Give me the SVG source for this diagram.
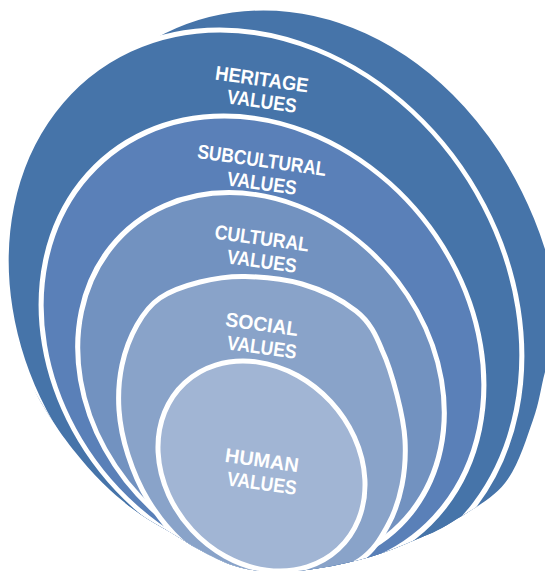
<svg xmlns="http://www.w3.org/2000/svg" width="545" height="571" viewBox="0 0 545 571">
<defs>
<clipPath id="cut">
<path d="M-10,-10 L560,-10 L560,320 L545,372 C540.5,388.67 539.670,401.5 533,420 C526.33,438.5 518.5,466 505,483 C491.5,500 467,512.5 452,522 C437,531.5 428.67,534.17 415,540 C401.33,545.83 385.8,552.3 370,557 C354.2,561.7 335.8,565.5 320,568 C304.2,570.5 289.2,572.3 275,572 C260.8,571.7 247.5,569.7 235,566 C222.5,562.3 210.8,555.7 200,550 C189.2,544.3 180,538 170,532 C160,526 150,521 140,514 C130,507 120,499.3 110,490 C100,480.7 89.7,469.7 80,458 C70.3,446.3 61.3,434.7 52,420 C42.7,405.3 31.7,388.3 24,370 C16.3,351.7 10.8,330 6,310 L-5,250 L-10,-10 Z"/>
</clipPath>
<clipPath id="rightside">
<rect x="125" y="-10" width="440" height="600"/>
</clipPath>
</defs>
<style>
.ring{stroke:#ffffff;stroke-width:5}
.c1{fill:#4674a9}.c2{fill:#4674a9}.c3{fill:#5a80b8}.c4{fill:#7292c0}.c5{fill:#89a3c9}.c6{fill:#a1b5d4}
.lbl{font-family:"Liberation Sans",Arial,sans-serif;font-weight:bold;font-size:20px;fill:#ffffff;text-anchor:middle}
</style>
<rect width="545" height="571" fill="#ffffff"/>
<g clip-path="url(#cut)">
<g id="outer" clip-path="url(#rightside)">
<ellipse class="ring c1" cx="0" cy="0" rx="276.1" ry="332" transform="matrix(1 0 0.0775 1 289 340)"/>
</g>
<g id="heritage">
<ellipse class="ring c2" cx="0" cy="0" rx="254" ry="278" transform="matrix(1 0 0.159 1 264 308)"/>
<text class="lbl" transform="rotate(8 261 86)" x="261" y="86" textLength="94" lengthAdjust="spacingAndGlyphs">HERITAGE</text>
<text class="lbl" transform="rotate(8 261 108)" x="261" y="108" textLength="70" lengthAdjust="spacingAndGlyphs">VALUES</text>
</g>
<g id="subcultural">
<ellipse class="ring c3" cx="0" cy="0" rx="218" ry="229" transform="matrix(1 0 0.168 1 262.5 345)"/>
<text class="lbl" transform="rotate(8 261 167)" x="261" y="167" textLength="130" lengthAdjust="spacingAndGlyphs">SUBCULTURAL</text>
<text class="lbl" transform="rotate(8 261 190)" x="261" y="190" textLength="70" lengthAdjust="spacingAndGlyphs">VALUES</text>
</g>
<g id="cultural">
<ellipse class="ring c4" cx="0" cy="0" rx="180.5" ry="187.4" transform="matrix(1 0 0.17 1 261 380)"/>
<text class="lbl" transform="rotate(8 261 245)" x="261" y="245" textLength="95" lengthAdjust="spacingAndGlyphs">CULTURAL</text>
<text class="lbl" transform="rotate(8 261 268)" x="261" y="268" textLength="70" lengthAdjust="spacingAndGlyphs">VALUES</text>
</g>
<g id="social">
<path class="ring c5" d="M245,276.5 C262,276.8 283,278.5 302,284 C321,289.5 342,300 356,311 C370,322 376,335 382,350 C388.5,363.67 393.17,380 397,395 C400.83,410 404.17,425 405,440 C405.83,455 404.83,470.83 402,485 C399.17,499.17 395,512.5 388,525 C381,537.5 374.67,550 360,560 C345.33,570 321.67,582.5 300,585 C278.33,587.5 250,582.5 230,575 C210,567.5 193.67,552.5 180,540 C166.33,527.5 156.67,514.17 148,500 C139.33,485.83 132.83,470 128,455 C123.17,440 120,425 119,410 C118,395 119,379.17 122,365 C125,350.83 130.67,336.17 137,325 C143.33,313.83 149.5,305.17 160,298 C170.5,290.83 185.83,285.58 200,282 C214.17,278.42 228.33,276.17 245,276.5 Z"/>
<text class="lbl" transform="rotate(8 261 331)" x="261" y="331" textLength="73" lengthAdjust="spacingAndGlyphs">SOCIAL</text>
<text class="lbl" transform="rotate(8 261 354)" x="261" y="354" textLength="70" lengthAdjust="spacingAndGlyphs">VALUES</text>
</g>
<g id="human">
<ellipse class="ring c6" cx="261.5" cy="466" rx="94.5" ry="113.2" transform="rotate(-42.7 261.5 466)"/>
<text class="lbl" transform="rotate(8 261 467)" x="261" y="467" textLength="74" lengthAdjust="spacingAndGlyphs">HUMAN</text>
<text class="lbl" transform="rotate(8 261 490)" x="261" y="490" textLength="70" lengthAdjust="spacingAndGlyphs">VALUES</text>
</g>
</g>
<g id="connectors"></g>
</svg>
